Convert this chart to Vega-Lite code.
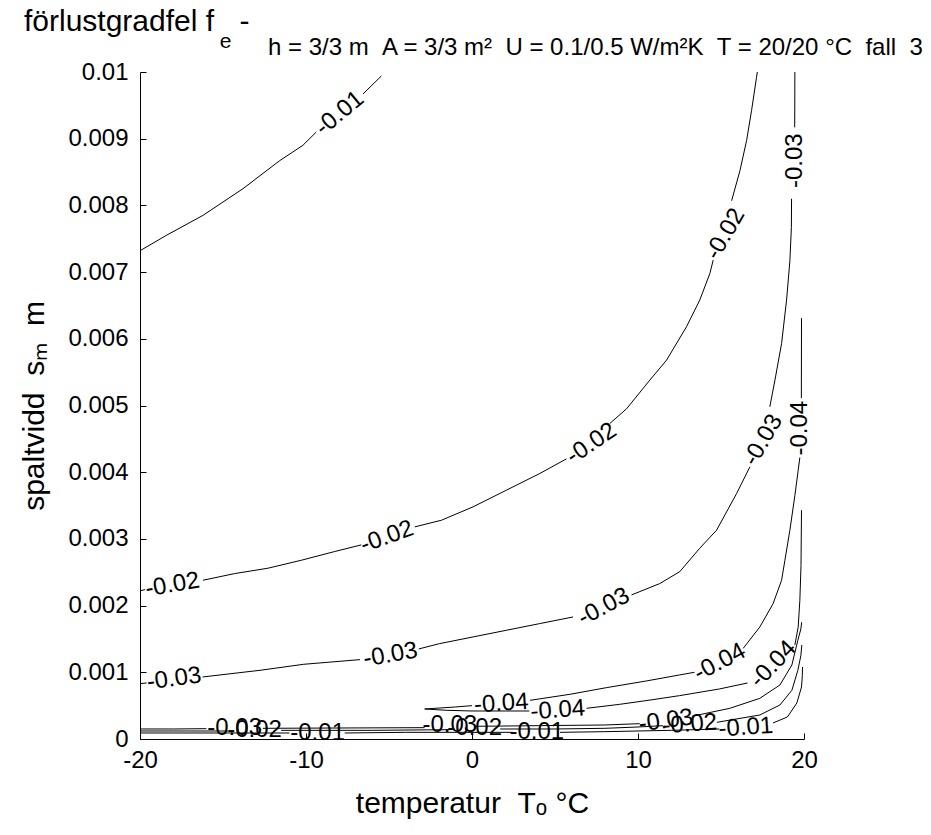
{
  "$schema": "https://vega.github.io/schema/vega-lite/v6.json",
  "width": 664,
  "height": 667,
  "autosize": {"type": "none"},
  "padding": {"left": 140, "top": 72, "right": 127, "bottom": 96},
  "background": "white",
  "config": {"view": {"stroke": null}, "font": "Liberation Sans"},
  "datasets": {
    "lines": [
      {"seg": "L1a", "T": -20, "s": 0.00732}, {"seg": "L1a", "T": -18.42, "s": 0.00755}, {"seg": "L1a", "T": -16.21, "s": 0.00785}, {"seg": "L1a", "T": -13.8, "s": 0.00825}, {"seg": "L1a", "T": -11.59, "s": 0.00867}, {"seg": "L1a", "T": -10.19, "s": 0.0089}, {"seg": "L1a", "T": -9.38, "s": 0.0091},
      {"seg": "L1b", "T": -6.57, "s": 0.00967}, {"seg": "L1b", "T": -5.46, "s": 0.00994},
      {"seg": "L2a", "T": -20, "s": 0.00222}, {"seg": "L2a", "T": -19.7, "s": 0.00224},
      {"seg": "L2b", "T": -16.21, "s": 0.00238}, {"seg": "L2b", "T": -14.3, "s": 0.00248}, {"seg": "L2b", "T": -12.3, "s": 0.00256}, {"seg": "L2b", "T": -10.28, "s": 0.00268}, {"seg": "L2b", "T": -8.28, "s": 0.00281}, {"seg": "L2b", "T": -6.67, "s": 0.00291},
      {"seg": "L2c", "T": -3.45, "s": 0.00318}, {"seg": "L2c", "T": -1.84, "s": 0.00328}, {"seg": "L2c", "T": 0.06, "s": 0.00348}, {"seg": "L2c", "T": 2.07, "s": 0.00373}, {"seg": "L2c", "T": 4.08, "s": 0.00398}, {"seg": "L2c", "T": 5.69, "s": 0.0042},
      {"seg": "L2d", "T": 8.3, "s": 0.00473}, {"seg": "L2d", "T": 9.31, "s": 0.00495}, {"seg": "L2d", "T": 10.71, "s": 0.00538}, {"seg": "L2d", "T": 11.72, "s": 0.00568}, {"seg": "L2d", "T": 12.92, "s": 0.00618}, {"seg": "L2d", "T": 13.72, "s": 0.00658}, {"seg": "L2d", "T": 14.33, "s": 0.00698}, {"seg": "L2d", "T": 14.53, "s": 0.00718},
      {"seg": "L2e", "T": 15.64, "s": 0.00807}, {"seg": "L2e", "T": 16.14, "s": 0.00852}, {"seg": "L2e", "T": 16.54, "s": 0.00897}, {"seg": "L2e", "T": 16.84, "s": 0.00942}, {"seg": "L2e", "T": 17.14, "s": 0.00992}, {"seg": "L2e", "T": 17.19, "s": 0.01},
      {"seg": "L3a", "T": -20, "s": 0.00083}, {"seg": "L3a", "T": -19.6, "s": 0.00084},
      {"seg": "L3b", "T": -16.23, "s": 0.00093}, {"seg": "L3b", "T": -12.77, "s": 0.00103}, {"seg": "L3b", "T": -10.14, "s": 0.00112}, {"seg": "L3b", "T": -6.75, "s": 0.00119},
      {"seg": "L3c", "T": -3.21, "s": 0.00135}, {"seg": "L3c", "T": -1.95, "s": 0.00143}, {"seg": "L3c", "T": 0.06, "s": 0.00153}, {"seg": "L3c", "T": 2.07, "s": 0.00163}, {"seg": "L3c", "T": 4.08, "s": 0.00173}, {"seg": "L3c", "T": 6.09, "s": 0.00183},
      {"seg": "L3d", "T": 9.61, "s": 0.00216}, {"seg": "L3d", "T": 11.31, "s": 0.00233}, {"seg": "L3d", "T": 12.52, "s": 0.00251}, {"seg": "L3d", "T": 13.72, "s": 0.00286}, {"seg": "L3d", "T": 14.73, "s": 0.00313}, {"seg": "L3d", "T": 15.94, "s": 0.00368}, {"seg": "L3d", "T": 16.74, "s": 0.00408},
      {"seg": "L3e", "T": 17.94, "s": 0.00498}, {"seg": "L3e", "T": 18.25, "s": 0.00538}, {"seg": "L3e", "T": 18.65, "s": 0.00593}, {"seg": "L3e", "T": 18.95, "s": 0.00658}, {"seg": "L3e", "T": 19.15, "s": 0.00717}, {"seg": "L3e", "T": 19.24, "s": 0.00767}, {"seg": "L3e", "T": 19.25, "s": 0.0081},
      {"seg": "L3f", "T": 19.44, "s": 0.00917}, {"seg": "L3f", "T": 19.45, "s": 0.01},
      {"seg": "L4a1", "T": -2.85, "s": 0.00045}, {"seg": "L4a1", "T": -1.0, "s": 0.00048}, {"seg": "L4a1", "T": 0.0, "s": 0.0005},
      {"seg": "L4a2", "T": 3.5, "s": 0.00058}, {"seg": "L4a2", "T": 5.9, "s": 0.00067}, {"seg": "L4a2", "T": 8.1, "s": 0.00077}, {"seg": "L4a2", "T": 10.5, "s": 0.00087}, {"seg": "L4a2", "T": 12.5, "s": 0.00096}, {"seg": "L4a2", "T": 13.4, "s": 0.001},
      {"seg": "L4a3", "T": 16.34, "s": 0.00136}, {"seg": "L4a3", "T": 17.34, "s": 0.00168}, {"seg": "L4a3", "T": 18.14, "s": 0.00203}, {"seg": "L4a3", "T": 18.65, "s": 0.00238}, {"seg": "L4a3", "T": 18.85, "s": 0.00268}, {"seg": "L4a3", "T": 19.15, "s": 0.00313}, {"seg": "L4a3", "T": 19.45, "s": 0.00365}, {"seg": "L4a3", "T": 19.65, "s": 0.00403}, {"seg": "L4a3", "T": 19.75, "s": 0.00422},
      {"seg": "L4a4", "T": 19.84, "s": 0.00511}, {"seg": "L4a4", "T": 19.85, "s": 0.00631},
      {"seg": "L4b1", "T": -2.85, "s": 0.00045}, {"seg": "L4b1", "T": -1.5, "s": 0.00043}, {"seg": "L4b1", "T": 0.0, "s": 0.00042}, {"seg": "L4b1", "T": 2.0, "s": 0.00042}, {"seg": "L4b1", "T": 3.45, "s": 0.00042},
      {"seg": "L4b2", "T": 6.9, "s": 0.00046}, {"seg": "L4b2", "T": 8.9, "s": 0.00052}, {"seg": "L4b2", "T": 10.9, "s": 0.00059}, {"seg": "L4b2", "T": 12.5, "s": 0.00065}, {"seg": "L4b2", "T": 14.9, "s": 0.00075}, {"seg": "L4b2", "T": 16.6, "s": 0.00084},
      {"seg": "L4b3", "T": 19.45, "s": 0.00141}, {"seg": "L4b3", "T": 19.65, "s": 0.00168}, {"seg": "L4b3", "T": 19.75, "s": 0.00208}, {"seg": "L4b3", "T": 19.82, "s": 0.0026}, {"seg": "L4b3", "T": 19.85, "s": 0.00343},
      {"seg": "L5a", "T": -20, "s": 0.00015}, {"seg": "L5a", "T": -18, "s": 0.00015}, {"seg": "L5a", "T": -16, "s": 0.000155},
      {"seg": "L5b", "T": -12.6, "s": 0.00016}, {"seg": "L5b", "T": -8, "s": 0.000165}, {"seg": "L5b", "T": -2.85, "s": 0.00017},
      {"seg": "L5c", "T": 0.16, "s": 0.00019}, {"seg": "L5c", "T": 4, "s": 0.0002}, {"seg": "L5c", "T": 8, "s": 0.00021}, {"seg": "L5c", "T": 10.1, "s": 0.00023},
      {"seg": "L5d", "T": 13.24, "s": 0.00034}, {"seg": "L5d", "T": 15.53, "s": 0.00046}, {"seg": "L5d", "T": 17.34, "s": 0.00061}, {"seg": "L5d", "T": 18.55, "s": 0.00081}, {"seg": "L5d", "T": 19.27, "s": 0.00111}, {"seg": "L5d", "T": 19.63, "s": 0.00148}, {"seg": "L5d", "T": 19.81, "s": 0.00165}, {"seg": "L5d", "T": 19.86, "s": 0.00175},
      {"seg": "L6a", "T": -20, "s": 0.00012}, {"seg": "L6a", "T": -17, "s": 0.00012}, {"seg": "L6a", "T": -14.7, "s": 0.00012},
      {"seg": "L6b", "T": -11.5, "s": 0.00013}, {"seg": "L6b", "T": -6, "s": 0.00013}, {"seg": "L6b", "T": -1.3, "s": 0.00014},
      {"seg": "L6c", "T": 1.7, "s": 0.00015}, {"seg": "L6c", "T": 5, "s": 0.00015}, {"seg": "L6c", "T": 8, "s": 0.00016}, {"seg": "L6c", "T": 10, "s": 0.00018}, {"seg": "L6c", "T": 11.5, "s": 0.0002},
      {"seg": "L6d", "T": 14.75, "s": 0.00025}, {"seg": "L6d", "T": 17.34, "s": 0.00036}, {"seg": "L6d", "T": 18.55, "s": 0.00051}, {"seg": "L6d", "T": 19.27, "s": 0.00073}, {"seg": "L6d", "T": 19.63, "s": 0.00103}, {"seg": "L6d", "T": 19.81, "s": 0.00125}, {"seg": "L6d", "T": 19.87, "s": 0.00141},
      {"seg": "L7a", "T": -20, "s": 0.00009}, {"seg": "L7a", "T": -15, "s": 0.00009}, {"seg": "L7a", "T": -11, "s": 0.00009},
      {"seg": "L7b", "T": -7.67, "s": 0.00009}, {"seg": "L7b", "T": -4, "s": 0.0001}, {"seg": "L7b", "T": 0, "s": 0.0001}, {"seg": "L7b", "T": 2.45, "s": 0.0001},
      {"seg": "L7c", "T": 5.3, "s": 0.0001}, {"seg": "L7c", "T": 8, "s": 0.00011}, {"seg": "L7c", "T": 10, "s": 0.00012}, {"seg": "L7c", "T": 12, "s": 0.00013}, {"seg": "L7c", "T": 14.9, "s": 0.00015},
      {"seg": "L7d", "T": 18.13, "s": 0.00024}, {"seg": "L7d", "T": 19.0, "s": 0.00033}, {"seg": "L7d", "T": 19.57, "s": 0.00054}, {"seg": "L7d", "T": 19.85, "s": 0.00078}, {"seg": "L7d", "T": 19.9, "s": 0.00095}, {"seg": "L7d", "T": 19.91, "s": 0.00108}
    ],
    "labels": [
      {"lab": "-0.01", "T": -7.97, "s": 0.00938, "g": "a40"},
      {"lab": "-0.02", "T": -18.05, "s": 0.00231, "g": "a10"},
      {"lab": "-0.02", "T": -5.12, "s": 0.00303, "g": "a20"},
      {"lab": "-0.02", "T": 7.2, "s": 0.00443, "g": "a34"},
      {"lab": "-0.02", "T": 15.27, "s": 0.00757, "g": "a59"},
      {"lab": "-0.03", "T": 19.45, "s": 0.00867, "g": "a90"},
      {"lab": "-0.03", "T": -17.95, "s": 0.0009, "g": "a8"},
      {"lab": "-0.03", "T": -4.91, "s": 0.00126, "g": "a10"},
      {"lab": "-0.03", "T": 7.94, "s": 0.00198, "g": "a28"},
      {"lab": "-0.03", "T": 17.54, "s": 0.00448, "g": "a59"},
      {"lab": "-0.04", "T": 19.78, "s": 0.00466, "g": "a90"},
      {"lab": "-0.04", "T": 14.93, "s": 0.00115, "g": "a28"},
      {"lab": "-0.04", "T": 18.15, "s": 0.00112, "g": "a42"},
      {"lab": "-0.04", "T": 1.76, "s": 0.00053, "g": "a4"},
      {"lab": "-0.04", "T": 5.17, "s": 0.00043, "g": "a4"},
      {"lab": "-0.03", "T": -14.3, "s": 0.00017, "g": "a0"},
      {"lab": "-0.02", "T": -13.1, "s": 0.000135, "g": "a0"},
      {"lab": "-0.01", "T": -9.3, "s": 0.00009, "g": "a0"},
      {"lab": "-0.03", "T": -1.34, "s": 0.00021, "g": "a0"},
      {"lab": "-0.02", "T": 0.16, "s": 0.000165, "g": "a0"},
      {"lab": "-0.01", "T": 3.9, "s": 0.0001, "g": "a0"},
      {"lab": "-0.03", "T": 11.68, "s": 0.00027, "g": "a8"},
      {"lab": "-0.02", "T": 13.12, "s": 0.00022, "g": "a4"},
      {"lab": "-0.01", "T": 16.5, "s": 0.00017, "g": "a4"}
    ]
  },
  "layer": [
    {
      "data": {"name": "lines"},
      "mark": {"type": "line", "color": "black", "strokeWidth": 1},
      "encoding": {
        "x": {"field": "T", "type": "quantitative", "scale": {"domain": [-20, 20], "nice": false, "zero": false},
          "axis": {"values": [-20, -10, 0, 10, 20], "labelExpr": "'' + datum.value", "grid": false,
            "title": "temperatur\u00a0\u00a0T\u2092\u00a0\u00b0C", "titleFont": "Liberation Sans", "titleFontSize": 30, "titleFontWeight": "normal", "titleColor": "black", "titlePadding": 16,
            "labelFont": "Liberation Sans", "labelFontSize": 24, "labelColor": "black", "labelPadding": 15, "labelFlush": false, "labelOverlap": false,
            "tickSize": -6, "tickColor": "black", "domainColor": "black"}},
        "y": {"field": "s", "type": "quantitative", "scale": {"domain": [0, 0.01], "nice": false, "zero": false},
          "axis": {"values": [0, 0.001, 0.002, 0.003, 0.004, 0.005, 0.006, 0.007, 0.008, 0.009, 0.01], "labelExpr": "'' + datum.value", "grid": false,
            "title": "spaltvidd\u00a0\u00a0s\u2098\u00a0\u00a0m", "titleFont": "Liberation Sans", "titleFontSize": 30, "titleFontWeight": "normal", "titleColor": "black", "titlePadding": 18,
            "labelFont": "Liberation Sans", "labelFontSize": 24, "labelColor": "black", "labelPadding": 18, "labelFlush": false, "labelOverlap": false,
            "tickSize": -6, "tickColor": "black", "domainColor": "black"}},
        "detail": {"field": "seg"}
      }
    },
    {"data": {"name": "labels"}, "transform": [{"filter": "datum.g === 'a0'"}], "mark": {"type": "text", "angle": 0, "fontSize": 24, "font": "Liberation Sans", "align": "center", "baseline": "middle", "color": "black"},
      "encoding": {"x": {"field": "T", "type": "quantitative", "scale": {"domain": [-20, 20], "nice": false, "zero": false}}, "y": {"field": "s", "type": "quantitative", "scale": {"domain": [0, 0.01], "nice": false, "zero": false}}, "text": {"field": "lab"}}},
    {"data": {"name": "labels"}, "transform": [{"filter": "datum.g === 'a4'"}], "mark": {"type": "text", "angle": 356, "fontSize": 24, "font": "Liberation Sans", "align": "center", "baseline": "middle", "color": "black"},
      "encoding": {"x": {"field": "T", "type": "quantitative", "scale": {"domain": [-20, 20], "nice": false, "zero": false}}, "y": {"field": "s", "type": "quantitative", "scale": {"domain": [0, 0.01], "nice": false, "zero": false}}, "text": {"field": "lab"}}},
    {"data": {"name": "labels"}, "transform": [{"filter": "datum.g === 'a8'"}], "mark": {"type": "text", "angle": 352, "fontSize": 24, "font": "Liberation Sans", "align": "center", "baseline": "middle", "color": "black"},
      "encoding": {"x": {"field": "T", "type": "quantitative", "scale": {"domain": [-20, 20], "nice": false, "zero": false}}, "y": {"field": "s", "type": "quantitative", "scale": {"domain": [0, 0.01], "nice": false, "zero": false}}, "text": {"field": "lab"}}},
    {"data": {"name": "labels"}, "transform": [{"filter": "datum.g === 'a10'"}], "mark": {"type": "text", "angle": 350, "fontSize": 24, "font": "Liberation Sans", "align": "center", "baseline": "middle", "color": "black"},
      "encoding": {"x": {"field": "T", "type": "quantitative", "scale": {"domain": [-20, 20], "nice": false, "zero": false}}, "y": {"field": "s", "type": "quantitative", "scale": {"domain": [0, 0.01], "nice": false, "zero": false}}, "text": {"field": "lab"}}},
    {"data": {"name": "labels"}, "transform": [{"filter": "datum.g === 'a20'"}], "mark": {"type": "text", "angle": 340, "fontSize": 24, "font": "Liberation Sans", "align": "center", "baseline": "middle", "color": "black"},
      "encoding": {"x": {"field": "T", "type": "quantitative", "scale": {"domain": [-20, 20], "nice": false, "zero": false}}, "y": {"field": "s", "type": "quantitative", "scale": {"domain": [0, 0.01], "nice": false, "zero": false}}, "text": {"field": "lab"}}},
    {"data": {"name": "labels"}, "transform": [{"filter": "datum.g === 'a28'"}], "mark": {"type": "text", "angle": 332, "fontSize": 24, "font": "Liberation Sans", "align": "center", "baseline": "middle", "color": "black"},
      "encoding": {"x": {"field": "T", "type": "quantitative", "scale": {"domain": [-20, 20], "nice": false, "zero": false}}, "y": {"field": "s", "type": "quantitative", "scale": {"domain": [0, 0.01], "nice": false, "zero": false}}, "text": {"field": "lab"}}},
    {"data": {"name": "labels"}, "transform": [{"filter": "datum.g === 'a34'"}], "mark": {"type": "text", "angle": 326, "fontSize": 24, "font": "Liberation Sans", "align": "center", "baseline": "middle", "color": "black"},
      "encoding": {"x": {"field": "T", "type": "quantitative", "scale": {"domain": [-20, 20], "nice": false, "zero": false}}, "y": {"field": "s", "type": "quantitative", "scale": {"domain": [0, 0.01], "nice": false, "zero": false}}, "text": {"field": "lab"}}},
    {"data": {"name": "labels"}, "transform": [{"filter": "datum.g === 'a40'"}], "mark": {"type": "text", "angle": 320, "fontSize": 24, "font": "Liberation Sans", "align": "center", "baseline": "middle", "color": "black"},
      "encoding": {"x": {"field": "T", "type": "quantitative", "scale": {"domain": [-20, 20], "nice": false, "zero": false}}, "y": {"field": "s", "type": "quantitative", "scale": {"domain": [0, 0.01], "nice": false, "zero": false}}, "text": {"field": "lab"}}},
    {"data": {"name": "labels"}, "transform": [{"filter": "datum.g === 'a42'"}], "mark": {"type": "text", "angle": 314, "fontSize": 24, "font": "Liberation Sans", "align": "center", "baseline": "middle", "color": "black"},
      "encoding": {"x": {"field": "T", "type": "quantitative", "scale": {"domain": [-20, 20], "nice": false, "zero": false}}, "y": {"field": "s", "type": "quantitative", "scale": {"domain": [0, 0.01], "nice": false, "zero": false}}, "text": {"field": "lab"}}},
    {"data": {"name": "labels"}, "transform": [{"filter": "datum.g === 'a59'"}], "mark": {"type": "text", "angle": 300, "fontSize": 24, "font": "Liberation Sans", "align": "center", "baseline": "middle", "color": "black"},
      "encoding": {"x": {"field": "T", "type": "quantitative", "scale": {"domain": [-20, 20], "nice": false, "zero": false}}, "y": {"field": "s", "type": "quantitative", "scale": {"domain": [0, 0.01], "nice": false, "zero": false}}, "text": {"field": "lab"}}},
    {"data": {"name": "labels"}, "transform": [{"filter": "datum.g === 'a90'"}], "mark": {"type": "text", "angle": 270, "fontSize": 24, "font": "Liberation Sans", "align": "center", "baseline": "middle", "color": "black"},
      "encoding": {"x": {"field": "T", "type": "quantitative", "scale": {"domain": [-20, 20], "nice": false, "zero": false}}, "y": {"field": "s", "type": "quantitative", "scale": {"domain": [0, 0.01], "nice": false, "zero": false}}, "text": {"field": "lab"}}},
    {"data": {"values": [{}]}, "mark": {"type": "text", "text": "förlustgradfel f", "fontSize": 30, "font": "Liberation Sans", "align": "left", "baseline": "alphabetic", "color": "black"},
      "encoding": {"x": {"datum": -26.99, "type": "quantitative", "scale": {"domain": [-20, 20], "nice": false, "zero": false}}, "y": {"datum": 0.010615, "type": "quantitative", "scale": {"domain": [0, 0.01], "nice": false, "zero": false}}}},
    {"data": {"values": [{}]}, "mark": {"type": "text", "text": "e", "fontSize": 21, "font": "Liberation Sans", "align": "left", "baseline": "alphabetic", "color": "black"},
      "encoding": {"x": {"datum": -15.2, "type": "quantitative", "scale": {"domain": [-20, 20], "nice": false, "zero": false}}, "y": {"datum": 0.01036, "type": "quantitative", "scale": {"domain": [0, 0.01], "nice": false, "zero": false}}}},
    {"data": {"values": [{}]}, "mark": {"type": "text", "text": "-", "fontSize": 30, "font": "Liberation Sans", "align": "left", "baseline": "alphabetic", "color": "black"},
      "encoding": {"x": {"datum": -14.0, "type": "quantitative", "scale": {"domain": [-20, 20], "nice": false, "zero": false}}, "y": {"datum": 0.010615, "type": "quantitative", "scale": {"domain": [0, 0.01], "nice": false, "zero": false}}}},
    {"data": {"values": [{}]}, "mark": {"type": "text", "text": "h = 3/3 m\u00a0\u00a0A = 3/3 m\u00b2\u00a0\u00a0U = 0.1/0.5 W/m\u00b2K\u00a0\u00a0T = 20/20 \u00b0C\u00a0\u00a0fall\u00a0\u00a03", "fontSize": 24, "font": "Liberation Sans", "align": "left", "baseline": "alphabetic", "color": "black"},
      "encoding": {"x": {"datum": -12.29, "type": "quantitative", "scale": {"domain": [-20, 20], "nice": false, "zero": false}}, "y": {"datum": 0.010255, "type": "quantitative", "scale": {"domain": [0, 0.01], "nice": false, "zero": false}}}}
  ]
}
